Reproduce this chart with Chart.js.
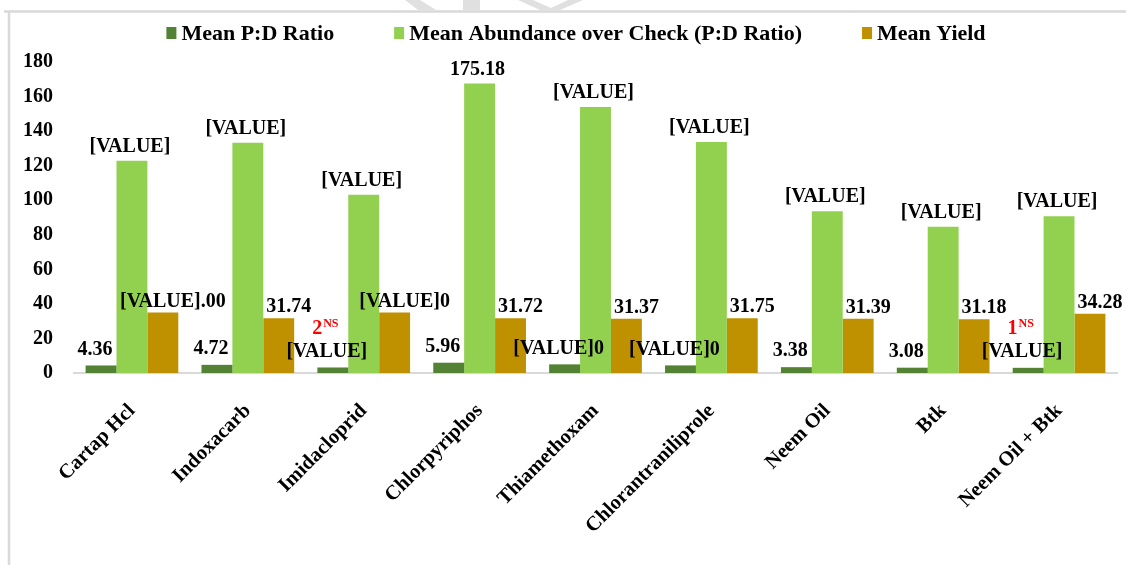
<!DOCTYPE html>
<html>
<head>
<meta charset="utf-8">
<script src="https://cdn.jsdelivr.net/npm/chart.js@4/dist/chart.umd.min.js"></script>
<style>
    html, body { margin: 0; padding: 0; background: #ffffff; }
    #wrap { width: 1126px; height: 565px; position: relative; }
</style>
</head>
<body>
<div id="wrap"><canvas id="chart"></canvas></div>
<script>
// categories and values
const categories = ['Cartap Hcl', 'Indoxacarb', 'Imidacloprid', 'Chlorpyriphos', 'Thiamethoxam',
    'Chlorantraniliprole', 'Neem Oil', 'Btk', 'Neem Oil + Btk'];
const pdRatio = [4.36, 4.72, 3.2, 5.96, 5.0, 4.4, 3.38, 3.08, 3.0];
const abundance = [122.9, 133.3, 103.2, 167.6, 153.9, 133.7, 93.6, 84.7, 90.7];
const meanYield = [35.00, 31.74, 35.0, 31.72, 31.37, 31.75, 31.39, 31.18, 34.28];

// data label texts exactly as printed on the chart
const pdLabels = ['4.36', '4.72', '[VALUE]', '5.96', '[VALUE]0', '[VALUE]0', '3.38', '3.08', '[VALUE]'];
const abundanceLabels = ['[VALUE]', '[VALUE]', '[VALUE]', '175.18', '[VALUE]', '[VALUE]', '[VALUE]', '[VALUE]', '[VALUE]'];
const yieldLabels = ['[VALUE].00', '31.74', '[VALUE]0', '31.72', '31.37', '31.75', '31.39', '31.18', '34.28'];
// red significance notes above the P:D labels
const pdNotes = ['', '', '2', '', '', '', '', '', '1'];
const noteSup = 'NS';

const yTicks = [0, 20, 40, 60, 80, 100, 120, 140, 160, 180];

const FONT = '"Liberation Serif", "Times New Roman", serif';

// frame lines and faint watermark behind the chart
const framePlugin = {
    id: 'frame',
    beforeDraw(chart) {
        const ctx = chart.ctx;
        ctx.save();
        ctx.fillStyle = '#e0e0e0';
        ctx.beginPath();
        ctx.moveTo(405, 0); ctx.lineTo(420, 0); ctx.lineTo(436, 10); ctx.lineTo(418, 10);
        ctx.closePath(); ctx.fill();
        ctx.fillRect(463, 0, 17, 10);
        ctx.beginPath();
        ctx.moveTo(518, 0); ctx.lineTo(533, 0); ctx.lineTo(551, 8); ctx.lineTo(568, 0);
        ctx.lineTo(583, 0); ctx.lineTo(560, 10); ctx.lineTo(540, 10);
        ctx.closePath(); ctx.fill();
        ctx.strokeStyle = '#d9d9d9';
        ctx.lineWidth = 2.5;
        ctx.beginPath();
        ctx.moveTo(4, 11.5); ctx.lineTo(1126, 11.5);
        ctx.moveTo(9, 11.5); ctx.lineTo(9, 565);
        ctx.stroke();
        ctx.restore();
    }
};

// legend drawn by hand so the spacing can follow the picture
const legendPlugin = {
    id: 'topLegend',
    afterDraw(chart) {
        const ctx = chart.ctx;
        const items = chart.data.datasets;
        ctx.save();
        ctx.font = 'bold 22px ' + FONT;
        ctx.textBaseline = 'middle';
        ctx.textAlign = 'left';
        const box = 10, gapText = 5, gapItem = 60;
        const widths = items.map(ds => box + gapText + ctx.measureText(ds.label).width);
        const total = widths.reduce((a, b) => a + b, 0) + gapItem * (items.length - 1);
        let x = 576 - total / 2;
        const y = 33;
        items.forEach((ds, i) => {
            ctx.fillStyle = ds.backgroundColor;
            ctx.fillRect(x, y - 6, box, 12);
            ctx.fillStyle = '#000000';
            ctx.fillText(ds.label, x + box + gapText, y + 1);
            x += widths[i] + gapItem;
        });
        ctx.restore();
    }
};

// value labels above each bar
const labelPlugin = {
    id: 'barLabels',
    afterDatasetsDraw(chart) {
        const ctx = chart.ctx;
        const texts = [pdLabels, abundanceLabels, yieldLabels];
        const shiftX = [-6, -2, 10];
        const shiftY = [16, 14, 11];
        ctx.save();
        ctx.textAlign = 'center';
        ctx.textBaseline = 'middle';
        chart.data.datasets.forEach((ds, d) => {
            const meta = chart.getDatasetMeta(d);
            meta.data.forEach((bar, i) => {
                const x = bar.x + shiftX[d];
                const y = bar.y - shiftY[d];
                ctx.font = 'bold 20px ' + FONT;
                ctx.fillStyle = '#000000';
                ctx.fillText(texts[d][i], x, y);
                if (d === 0 && pdNotes[i]) {
                    const ny = y - 23;
                    ctx.fillStyle = '#ff0000';
                    ctx.font = 'bold 20px ' + FONT;
                    const w1 = ctx.measureText(pdNotes[i]).width;
                    ctx.font = 'bold 12px ' + FONT;
                    const w2 = ctx.measureText(noteSup).width;
                    const start = x - (w1 + w2) / 2 - 2;
                    ctx.textAlign = 'left';
                    ctx.font = 'bold 20px ' + FONT;
                    ctx.fillText(pdNotes[i], start, ny);
                    ctx.font = 'bold 12px ' + FONT;
                    ctx.fillText(noteSup, start + w1 + 1, ny - 5);
                    ctx.textAlign = 'center';
                }
            });
        });
        ctx.restore();
    }
};

new Chart(document.getElementById('chart'), {
    type: 'bar',
    data: {
        labels: categories,
        datasets: [
            { label: 'Mean P:D Ratio', data: pdRatio, backgroundColor: '#548235' },
            { label: 'Mean Abundance over Check (P:D Ratio)', data: abundance, backgroundColor: '#92d050' },
            { label: 'Mean Yield', data: meanYield, backgroundColor: '#bf9000' }
        ]
    },
    options: {
        responsive: true,
        maintainAspectRatio: false,
        animation: false,
        categoryPercentage: 0.8,
        barPercentage: 1.0,
        layout: { padding: { top: 62, left: 10, right: 9, bottom: 0 } },
        plugins: {
            legend: { display: false },
            tooltip: { enabled: false }
        },
        scales: {
            x: {
                grid: { display: false, drawTicks: false },
                border: { display: true, color: '#d9d9d9', width: 2 },
                ticks: {
                    color: '#000000',
                    font: { family: FONT, size: 20.5, weight: 'bold' },
                    maxRotation: 45,
                    minRotation: 45,
                    padding: 26
                },
                afterFit(scale) { scale.height = 192; }
            },
            y: {
                min: 0,
                max: 180,
                grid: { display: false, drawTicks: false },
                border: { display: false },
                afterBuildTicks(scale) { scale.ticks = yTicks.map(v => ({ value: v })); },
                ticks: {
                    color: '#000000',
                    font: { family: FONT, size: 20, weight: 'bold' },
                    padding: 21
                },
                afterFit(scale) { scale.width = 64; }
            }
        }
    },
    plugins: [framePlugin, legendPlugin, labelPlugin]
});
</script>
</body>
</html>
